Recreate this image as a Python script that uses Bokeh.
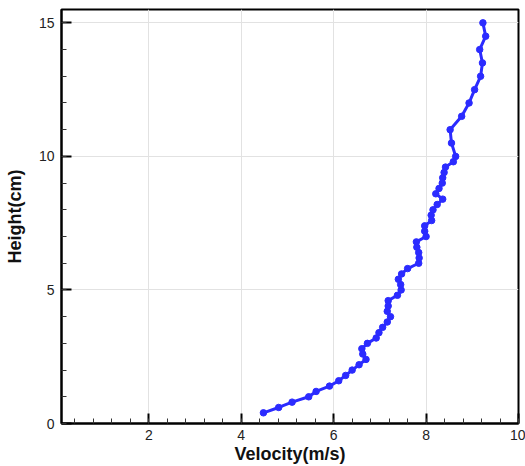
from bokeh.plotting import figure
from bokeh.models import FixedTicker, Range1d
from bokeh.embed import file_html
from bokeh.resources import INLINE

height_cm = [0.40, 0.60, 0.80, 1.00, 1.20, 1.40, 1.60, 1.80, 2.00, 2.20,
             2.40, 2.60, 2.80, 3.00, 3.20, 3.40, 3.60, 3.80, 4.00, 4.20,
             4.40, 4.60, 4.80, 5.00, 5.20, 5.40, 5.60, 5.80, 6.00, 6.20,
             6.40, 6.60, 6.80, 7.00, 7.20, 7.40, 7.60, 7.80, 8.00, 8.20,
             8.40, 8.60, 8.80, 9.00, 9.20, 9.40, 9.60, 9.80, 10.00, 10.50,
             11.00, 11.50, 12.00, 12.50, 13.00, 13.50, 14.00, 14.50, 15.00]
velocity = [4.48, 4.81, 5.10, 5.46, 5.62, 5.91, 6.11, 6.26, 6.40, 6.55,
            6.70, 6.63, 6.61, 6.73, 6.92, 6.98, 7.06, 7.16, 7.23, 7.16,
            7.18, 7.18, 7.38, 7.46, 7.45, 7.40, 7.47, 7.60, 7.84, 7.85,
            7.84, 7.80, 7.79, 8.00, 7.97, 7.97, 8.12, 8.11, 8.15, 8.24,
            8.36, 8.21, 8.28, 8.35, 8.36, 8.39, 8.42, 8.59, 8.64, 8.55,
            8.52, 8.77, 8.93, 9.05, 9.18, 9.22, 9.16, 9.29, 9.23]

x_ticks = [2, 4, 6, 8, 10]
y_ticks = [0, 5, 10, 15]
x_minor = [round(0.4 * i, 1) for i in range(1, 26)]
y_minor = list(range(0, 16))

p = figure(width=525, height=466, output_backend="svg", toolbar_location=None,
           x_range=Range1d(0.11, 10), y_range=Range1d(0, 15.5),
           min_border_left=61, min_border_right=7, min_border_top=9,
           min_border_bottom=41)

line_color = "#2b2bff"
p.line(velocity, height_cm, line_color=line_color, line_width=3)
p.scatter(velocity, height_cm, size=6.5, fill_color=line_color, line_color=line_color)

p.outline_line_color = "black"
p.outline_line_width = 2
p.background_fill_color = "white"
p.border_fill_color = "white"

for ax in (p.xaxis[0], p.yaxis[0]):
    ax.axis_line_color = "black"
    ax.axis_line_width = 2
    ax.major_tick_in = 10
    ax.major_tick_out = 0
    ax.major_tick_line_width = 2
    ax.major_tick_line_color = "black"
    ax.minor_tick_in = 5
    ax.minor_tick_out = 0
    ax.minor_tick_line_color = "#333333"
    ax.minor_tick_line_width = 1
    ax.major_label_text_font = "Liberation Sans"
    ax.major_label_text_font_size = "14px"
    ax.major_label_text_color = "#222222"
    ax.axis_label_text_font = "Liberation Sans"
    ax.axis_label_text_font_size = "18px"
    ax.axis_label_text_font_style = "bold"
    ax.axis_label_text_color = "#111111"

p.xaxis[0].ticker = FixedTicker(ticks=x_ticks, minor_ticks=x_minor)
p.yaxis[0].ticker = FixedTicker(ticks=y_ticks, minor_ticks=y_minor)
p.xaxis[0].axis_label = "Velocity(m/s)"
p.yaxis[0].axis_label = "Height(cm)"
p.xaxis[0].major_label_standoff = 6
p.yaxis[0].major_label_standoff = 7
p.xaxis[0].axis_label_standoff = 1
p.yaxis[0].axis_label_standoff = 11

p.xgrid[0].ticker = FixedTicker(ticks=x_ticks)
p.ygrid[0].ticker = FixedTicker(ticks=y_ticks)
p.xgrid.grid_line_color = "#e2e2e2"
p.ygrid.grid_line_color = "#e2e2e2"
p.xgrid.grid_line_width = 1
p.ygrid.grid_line_width = 1

open("out.html", "w").write(file_html(p, INLINE))
